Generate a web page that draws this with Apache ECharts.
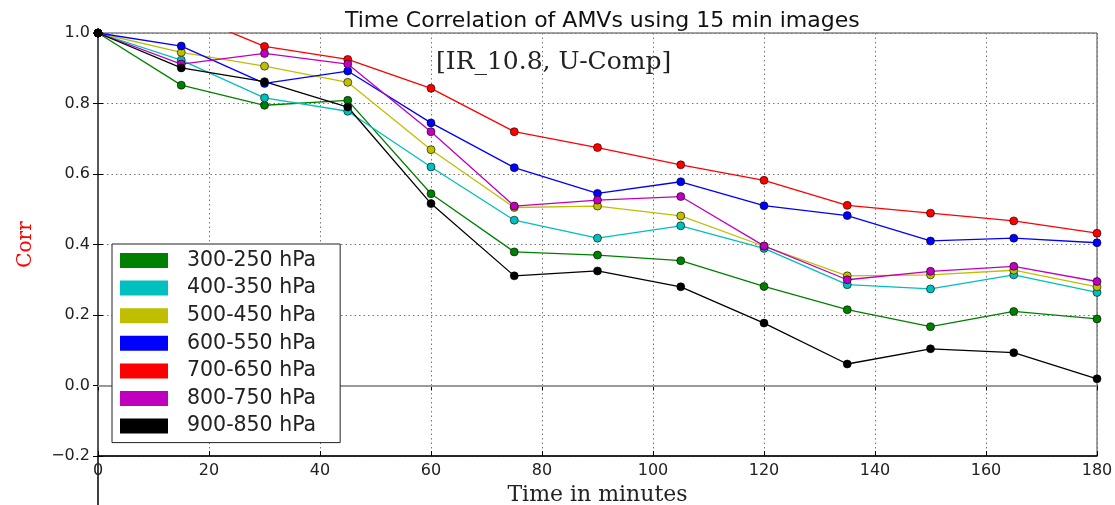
<!DOCTYPE html>
<html>
<head>
<meta charset="utf-8">
<script src="https://cdn.jsdelivr.net/npm/echarts@6/dist/echarts.min.js"></script>
<style>
html,body{margin:0;padding:0;background:#fff;}
#chart{width:1115px;height:505px;}
</style>
</head>
<body>
<div id="chart"></div>
<script>
// ---- data ----
var minutes = [0, 15, 30, 45, 60, 75, 90, 105, 120, 135, 150, 165, 180];
var seriesNames = ['300-250 hPa', '400-350 hPa', '500-450 hPa', '600-550 hPa', '700-650 hPa', '800-750 hPa', '900-850 hPa'];
var seriesColors = ['#008000', '#00bfbf', '#bfbf00', '#0000ff', '#ff0000', '#bf00bf', '#000000'];
var hPa300_250 = [1.0, 0.852, 0.795, 0.809, 0.544, 0.379, 0.370, 0.354, 0.281, 0.215, 0.167, 0.210, 0.189];
var hPa400_350 = [1.0, 0.923, 0.816, 0.778, 0.620, 0.469, 0.418, 0.453, 0.389, 0.286, 0.274, 0.314, 0.264];
var hPa500_450 = [1.0, 0.945, 0.906, 0.860, 0.669, 0.505, 0.509, 0.481, 0.395, 0.311, 0.314, 0.327, 0.280];
var hPa600_550 = [1.0, 0.963, 0.857, 0.892, 0.745, 0.618, 0.545, 0.578, 0.510, 0.482, 0.410, 0.418, 0.405];
var hPa700_650 = [1.0, 1.06, 0.962, 0.925, 0.843, 0.720, 0.675, 0.626, 0.582, 0.511, 0.489, 0.467, 0.432];
var hPa800_750 = [1.0, 0.912, 0.942, 0.912, 0.720, 0.509, 0.526, 0.536, 0.396, 0.300, 0.324, 0.338, 0.295];
var hPa900_850 = [1.0, 0.901, 0.862, 0.790, 0.516, 0.311, 0.325, 0.280, 0.177, 0.061, 0.104, 0.093, 0.019];
var seriesValues = [hPa300_250, hPa400_350, hPa500_450, hPa600_550, hPa700_650, hPa800_750, hPa900_850];
var titleText = 'Time Correlation of AMVs using 15 min images';
var annotationText = '[IR_10.8, U-Comp]';
var xName = 'Time in minutes';
var yName = 'Corr';

var chart = echarts.init(document.getElementById('chart'));

var series = seriesNames.map(function (name, i) {
  var s = {
    name: name,
    type: 'line',
    xAxisIndex: 0,
    yAxisIndex: 0,
    data: minutes.map(function (m, j) { return [m, seriesValues[i][j]]; }),
    symbol: 'circle',
    symbolSize: 8,
    clip: true,
    showSymbol: true,
    animation: false,
    color: seriesColors[i],
    lineStyle: { color: seriesColors[i], width: 1.3 },
    itemStyle: { color: seriesColors[i], borderColor: '#000', borderWidth: 0.6 },
    emphasis: { disabled: true }
  };
  if (i === 0) {
    s.markLine = {
      silent: true,
      symbol: ['none', 'none'],
      label: { show: false },
      lineStyle: { color: '#999', width: 2, type: 'solid' },
      data: [{ yAxis: 0 }],
      animation: false
    };
  }
  return s;
});

var tickFont = { fontFamily: 'DejaVu Sans', fontSize: 16, color: '#222' };

chart.setOption({
  animation: false,
  backgroundColor: '#fff',
  title: [
    {
      text: titleText,
      left: 340, top: 5,
      textStyle: { fontFamily: 'DejaVu Sans', fontSize: 22, fontWeight: 'normal', color: '#111' }
    },
    {
      text: annotationText,
      left: 431, top: 45,
      textStyle: { fontFamily: 'DejaVu Serif', fontSize: 25, fontWeight: 'normal', color: '#222' }
    }
  ],
  grid: {
    left: 98, right: 18, top: 33, bottom: 49,
    outerBoundsMode: 'none',
    containLabel: false,
    show: true, borderColor: '#444', borderWidth: 1, backgroundColor: '#fff'
  },
  legend: {
    orient: 'vertical',
    left: 112, top: 244,
    z: 50,
    padding: [6, 24, 6, 8],
    itemWidth: 48, itemHeight: 15,
    itemGap: 6.6,
    icon: 'rect',
    backgroundColor: '#fff',
    borderColor: '#222', borderWidth: 1,
    data: seriesNames.map(function (n, i) { return { name: n, itemStyle: { color: seriesColors[i], borderWidth: 0 } }; }),
    textStyle: { fontFamily: 'DejaVu Sans', fontSize: 20.5, lineHeight: 20, color: '#222', padding: [0, 0, 0, 14] },
    selectedMode: false
  },
  xAxis: [
    {
      type: 'value', min: 0, max: 180, interval: 20,
      name: xName, nameLocation: 'middle', nameGap: 27,
      nameTextStyle: { fontFamily: 'DejaVu Serif', fontSize: 22, color: '#222' },
      axisLine: { show: true, onZero: false, lineStyle: { color: '#000', width: 1.5 } },
      axisTick: { show: true, inside: true, length: 5, lineStyle: { color: '#000' } },
      axisLabel: Object.assign({ margin: 7 }, tickFont),
      splitLine: { show: true, lineStyle: { color: '#777', width: 1, type: [1.5, 3] } }
    },
    {
      type: 'value', min: 0, max: 180, interval: 20, position: 'top',
      axisLine: { show: true, lineStyle: { color: '#666', width: 1.5 } },
      axisTick: { show: true, inside: true, length: 5, lineStyle: { color: '#000' } },
      axisLabel: { show: false },
      splitLine: { show: false }
    }
  ],
  yAxis: [
    {
      type: 'value', min: -0.2, max: 1.0, interval: 0.2,
      name: yName, nameLocation: 'middle', nameGap: 62, nameRotate: 90,
      nameTextStyle: { fontFamily: 'DejaVu Serif', fontSize: 20, color: '#ff0000' },
      axisLine: { show: true, onZero: false, lineStyle: { color: '#000', width: 1.5 } },
      axisTick: { show: true, inside: true, length: 5, lineStyle: { color: '#000' } },
      axisLabel: Object.assign({
        margin: 8,
        formatter: function (v) { return (Math.round(v * 10) / 10).toFixed(1).replace('-', '\u2212'); }
      }, tickFont),
      splitLine: { show: true, lineStyle: { color: '#777', width: 1, type: [1.5, 3] } }
    },
    {
      type: 'value', min: -0.2, max: 1.0, interval: 0.2, position: 'right',
      axisLine: { show: true, lineStyle: { color: '#666', width: 1.5 } },
      axisTick: { show: true, inside: true, length: 5, lineStyle: { color: '#000' } },
      axisLabel: { show: false },
      splitLine: { show: false }
    }
  ],
  graphic: [
    {
      type: 'line',
      shape: { x1: 98, y1: 456, x2: 98, y2: 505 },
      style: { stroke: '#000', lineWidth: 1.5 },
      silent: true
    }
  ],
  series: series
});
</script>
</body>
</html>
